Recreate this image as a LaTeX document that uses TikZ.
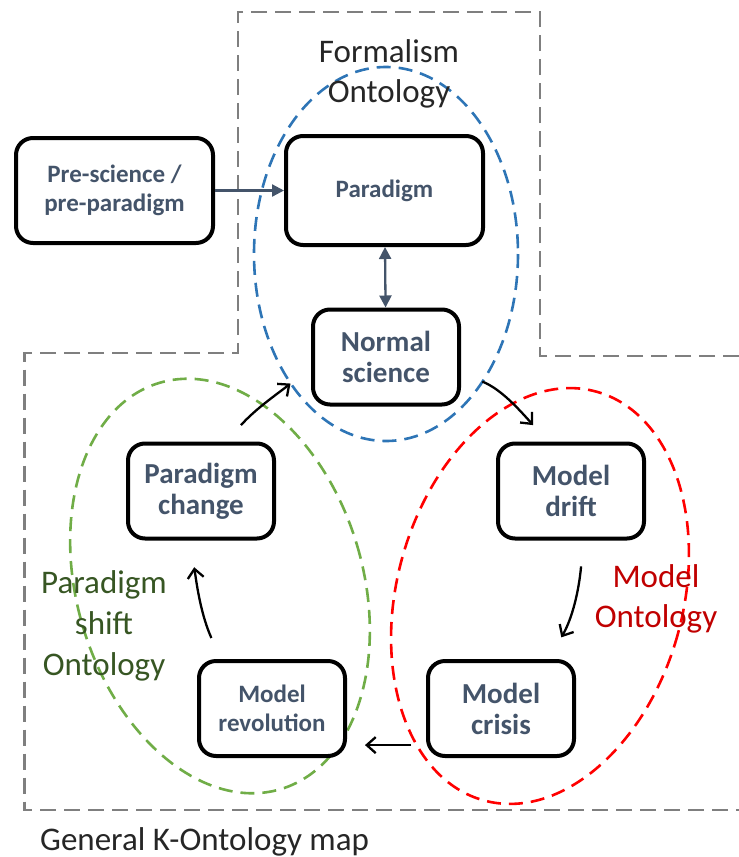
\documentclass[tikz,border=0pt]{standalone}
\usepackage{fontspec}
\setmainfont{Carlito}
\usetikzlibrary{arrows.meta}
\definecolor{textblue}{HTML}{44546A}
\definecolor{formalblue}{HTML}{2E75B6}
\definecolor{shiftgreen}{HTML}{70AD47}
\definecolor{shifttext}{HTML}{375623}
\definecolor{modelred}{HTML}{FF0000}
\definecolor{modeltext}{HTML}{C00000}
\definecolor{framegray}{HTML}{7F7F7F}
\definecolor{labeltext}{HTML}{262626}
\tikzstyle{stagebox}=[draw=black,line width=4pt,rounded corners=17pt,fill=white,align=center,text=textblue,inner sep=0pt]
\tikzstyle{bigtext}=[font=\fontsize{29}{31}\selectfont\bfseries]
\tikzstyle{smalltext}=[font=\fontsize{25}{29}\selectfont\bfseries]
\tikzstyle{ontology}=[align=center,font=\fontsize{33}{40}\selectfont,inner sep=0pt]
\tikzstyle{region}=[draw,dash pattern=on 14pt off 8pt,line width=2.6pt]
\tikzstyle{slateedge}=[draw,line width=2.3pt,textblue,-{Triangle[length=12pt,width=12pt]}]
\tikzstyle{cycleedge}=[draw,line width=2.3pt,black,-{Straight Barb[length=9pt,width=16pt]}]

\begin{document}
\begin{tikzpicture}[x=1pt,y=-1pt]
\useasboundingbox (0,0) rectangle (739,857);

% frame
\draw[framegray,line width=2.6pt,dash pattern=on 16pt off 8pt] (739,356) -- (540,356) -- (540,12) -- (238,12) -- (238,353) -- (24.5,353) -- (24.5,810) -- (739,810);

% ontologies
\draw[region,formalblue] (386,254) ellipse [x radius=132, y radius=187];
\draw[region,shiftgreen,rotate around={16.6:(220,586)}] (220,586) ellipse [x radius=143, y radius=212];
\draw[region,modelred,rotate around={-15.4:(540,596)}] (540,596) ellipse [x radius=143, y radius=212];

% stages
\foreach \pos/\name/\w/\h/\txt in {{(114.5,190.5)/pre/197pt/105pt/{Pre-science /\\pre-paradigm}}, {(384.5,190.5)/para/197pt/109pt/Paradigm}, {(272,708.5)/revol/146pt/95pt/{Model\\revolution}}}
    \node[stagebox,smalltext,minimum width=\w,minimum height=\h] (\name) at \pos {\txt};

\foreach \pos/\name/\txt in {{(386,357)/normal/{Normal\\science}}, {(201,491)/change/{Paradigm\\change}}, {(571,491)/drift/{Model\\drift}}, {(501,708.5)/crisis/{Model\\crisis}}}
    \node[stagebox,bigtext,minimum width=146pt,minimum height=95pt] (\name) at \pos {\txt};

% connectors
\path[slateedge] (pre) -- (para);
\path[slateedge,{Triangle[length=12pt,width=12pt]}-{Triangle[length=12pt,width=12pt]}] (para) -- (normal);

\foreach \source/\dest/\o/\i/\s/\e in {change.63/normal.188/48/218/22pt/26pt, normal.-12/drift.115/-22/132/23pt/22pt, drift.-76/crisis.46/-95/60/26pt/25pt, revol.136/change.258/114/-82/23pt/27pt}
    \draw[cycleedge,shorten <=\s,shorten >=\e] (\source) to[out=\o,in=\i] (\dest);
\draw[cycleedge,shorten <=15pt,shorten >=18pt] (crisis.206) -- (revol.-26);

% labels
\node[ontology,text=labeltext] (formal) at (389,74) {Formalism\\Ontology};
\node[ontology,text=modeltext] (modelonto) at (656,599) {Model\\Ontology};
\node[ontology,text=shifttext,font=\fontsize{33}{41}\selectfont] (shiftonto) at (104,626) {Paradigm\\shift\\Ontology};
\node[ontology,text=labeltext,anchor=base west] (kmap) at (40,850) {General K-Ontology map};

\end{tikzpicture}
\end{document}
